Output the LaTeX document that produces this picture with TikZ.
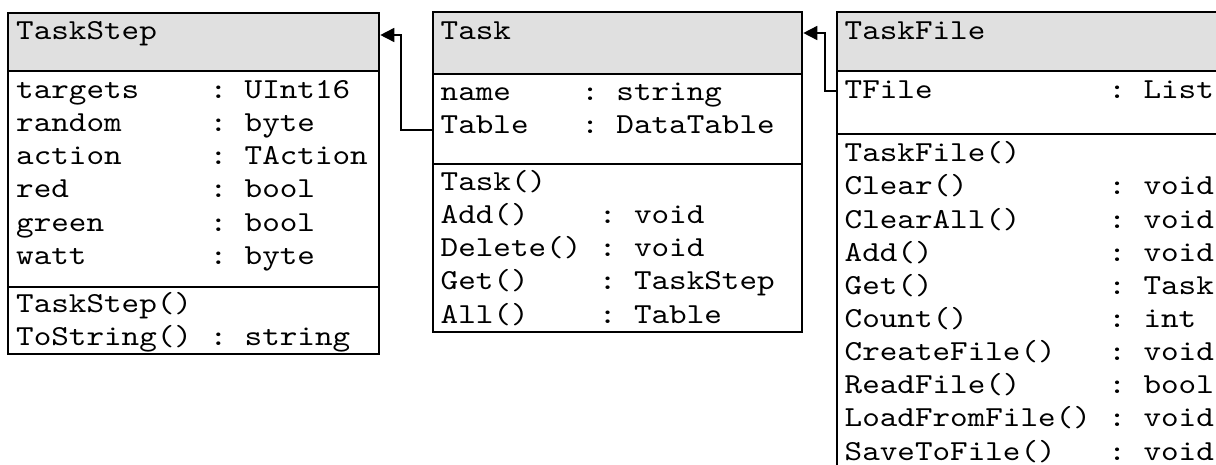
\documentclass[tikz,border=0pt]{standalone}
\usepackage{fontspec}
\newfontfamily\courtt{lmmono10-regular}[Extension=.otf,FakeStretch=1.155]
\usetikzlibrary{arrows.meta}
\definecolor{hdr}{RGB}{224,224,224}
\newlength\cwd
\setlength\cwd{17.58pt}
\newcommand\rowtxt[3]{\makebox[#1\cwd][l]{#2}\makebox[2\cwd][l]{:}#3}
\tikzset{
  cls/.style={draw, line width=2.6pt, rectangle, inner sep=0pt, outer sep=0pt, anchor=north west},
  hd/.style={cls, fill=hdr},
  txt/.style={inner sep=0pt, anchor=base west, font=\courtt\fontsize{29pt}{33.3pt}\selectfont},
  conn/.style={line width=1.6pt, shorten >=1.3pt, -{Triangle[length=14pt,width=14pt]}},
}
\begin{document}
\begin{tikzpicture}[x=1pt,y=-1pt]
\useasboundingbox (0,0) rectangle (1216,464);
\clip (0,0) rectangle (1216,464);
% TaskStep
\node[hd,  minimum width=371pt, minimum height=58pt]  (tsh) at (8,13) {};
\node[cls, minimum width=371pt, minimum height=216pt] (tsa) at (8,71) {};
\node[cls, minimum width=371pt, minimum height=67pt]  (tsm) at (8,287) {};
% Task
\node[hd,  minimum width=369pt, minimum height=62pt]  (th) at (433,12) {};
\node[cls, minimum width=369pt, minimum height=90pt]  (ta) at (433,74) {};
\node[cls, minimum width=369pt, minimum height=168pt] (tm) at (433,164) {};
% TaskFile
\node[hd,  minimum width=420pt, minimum height=59pt]  (fh) at (837,12) {};
\node[cls, minimum width=420pt, minimum height=63pt]  (fa) at (837,71) {};
\node[cls, minimum width=420pt, minimum height=400pt] (fm) at (837,134) {};
% TaskStep text
\node[txt] (tsn) at (16,39) {TaskStep};
\foreach \n/\t [count=\i] in {targets/UInt16,random/byte,action/TAction,red/bool,green/bool,watt/byte}
  \node[txt] (tsa\i) at ({16},{98+(\i-1)*33.3}) {\rowtxt{11}{\n}{\t}};
\node[txt] (tsm1) at (16,312.7) {TaskStep()};
\node[txt] (tsm2) at (16,345.4) {\rowtxt{11}{ToString()}{string}};
% Task text
\node[txt] (tn) at (440.5,39) {Task};
\node[txt] (ta1) at (440.5,100) {\rowtxt{8}{name}{string}};
\node[txt] (ta2) at (440.5,133) {\rowtxt{8}{Table}{DataTable}};
\node[txt] (tm1) at (440.5,190) {Task()};
\foreach \n/\t [count=\i from 2] in {Add()/void,Delete()/void,Get()/TaskStep,All()/Table}
  \node[txt] (tm\i) at ({440.5},{190+(\i-1)*33.3}) {\rowtxt{9}{\n}{\t}};
% TaskFile text
\node[txt] (fn) at (844.5,39) {TaskFile};
\node[txt] (fa1) at (844.5,98) {\rowtxt{15}{TFile}{List}};
\node[txt] (fm1) at (844.5,161.7) {TaskFile()};
\foreach \n/\t [count=\i from 2] in {Clear()/void,ClearAll()/void,Add()/void,Get()/Task,Count()/int,CreateFile()/void,ReadFile()/bool,LoadFromFile()/void,SaveToFile()/void}
  \node[txt] (fm\i) at ({844.5},{161.7+(\i-1)*33.15}) {\rowtxt{15}{\n}{\t}};
% connectors
\coordinate (y130) at (0,130);
\coordinate (k1) at (401,35);
\coordinate (y91) at (0,91);
\coordinate (k2) at (825,33);
\draw[conn] (ta.west |- y130) -| (k1) -- (tsh.east |- k1);
\draw[conn] (fa.west |- y91) -| (k2) -- (th.east |- k2);
\end{tikzpicture}
\end{document}
